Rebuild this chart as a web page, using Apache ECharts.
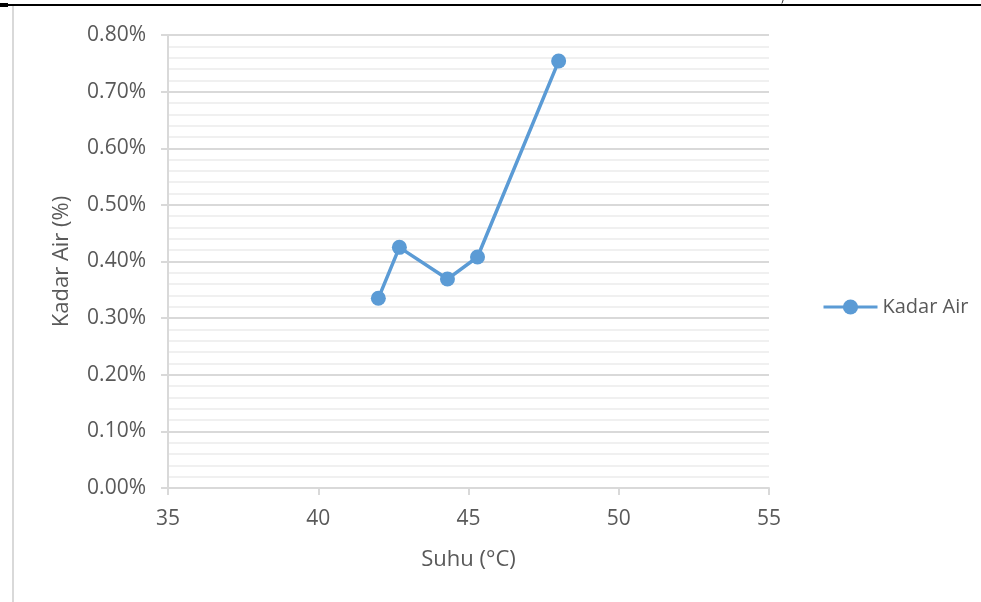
<!DOCTYPE html>
<html>
<head>
<meta charset="utf-8">
<script src="https://cdn.jsdelivr.net/npm/echarts@6/dist/echarts.min.js"></script>
<style>
  html, body { margin: 0; padding: 0; background: #fff; }
  #chart { width: 981px; height: 602px; }
</style>
</head>
<body>
<div id="chart"></div>
<script>
// data
var suhu = [42, 42.7, 44.3, 45.3, 48];
var kadarAir = [0.335, 0.425, 0.369, 0.408, 0.754];
var seriesName = 'Kadar Air';

var chart = echarts.init(document.getElementById('chart'));
var font = 'Open Sans';
var points = suhu.map(function (s, i) { return [s, kadarAir[i]]; });

var option = {
    backgroundColor: '#fff',
    textStyle: { fontFamily: font },
    animation: false,
    grid: { left: 168, right: 212, top: 35, bottom: 114 },
    legend: {
        data: [seriesName],
        orient: 'vertical',
        left: 817,
        top: 292,
        itemWidth: 54,
        itemHeight: 19,
        itemGap: 6,
        lineStyle: { width: 3 },
        textStyle: { fontSize: 20, color: '#595959', fontFamily: font }
    },
    xAxis: {
        type: 'value',
        min: 35, max: 55, interval: 5,
        name: 'Suhu (°C)',
        nameLocation: 'middle',
        nameGap: 61,
        nameTextStyle: { fontSize: 22, color: '#595959' },
        axisLine: { show: true, lineStyle: { color: '#d9d9d9', width: 2 } },
        axisTick: { show: true, inside: false, length: 7, lineStyle: { color: '#d9d9d9', width: 2 } },
        axisLabel: { fontSize: 21, color: '#595959', margin: 21 },
        splitLine: { show: false }
    },
    yAxis: {
        type: 'value',
        min: 0, max: 0.8, interval: 0.1,
        name: 'Kadar Air (%)',
        nameLocation: 'middle',
        nameGap: 95,
        nameRotate: 90,
        nameTextStyle: { fontSize: 22, color: '#595959' },
        axisLine: { show: true, lineStyle: { color: '#d9d9d9', width: 2 } },
        axisTick: { show: true, length: 7, lineStyle: { color: '#d9d9d9', width: 2 } },
        axisLabel: {
            fontSize: 21, color: '#595959', margin: 22,
            formatter: function (v) { return v.toFixed(2) + '%'; }
        },
        splitLine: { show: true, lineStyle: { color: '#d9d9d9', width: 2 } },
        minorTick: { show: false, splitNumber: 5 },
        minorSplitLine: { show: true, lineStyle: { color: '#f0f0f0', width: 2 } }
    },
    series: [{
        name: seriesName,
        type: 'line',
        data: points,
        symbol: 'circle',
        symbolSize: 15,
        color: '#5b9bd5',
        lineStyle: { width: 3.5, color: '#5b9bd5' },
        itemStyle: { color: '#5b9bd5' }
    }],
    graphic: [
        // page border bits around the chart
        { type: 'rect', shape: { x: 0, y: 4, width: 981, height: 2 }, style: { fill: '#000' }, silent: true },
        { type: 'rect', shape: { x: 0, y: 3, width: 8, height: 4 }, style: { fill: '#000' }, silent: true },
        { type: 'rect', shape: { x: 12, y: 6, width: 2, height: 596 }, style: { fill: '#d9d9d9' }, silent: true },
        { type: 'text', left: 781, top: -6, style: { text: ')', fontSize: 10, fill: '#000', fontFamily: font } }
    ]
};

chart.setOption(option);
</script>
</body>
</html>
